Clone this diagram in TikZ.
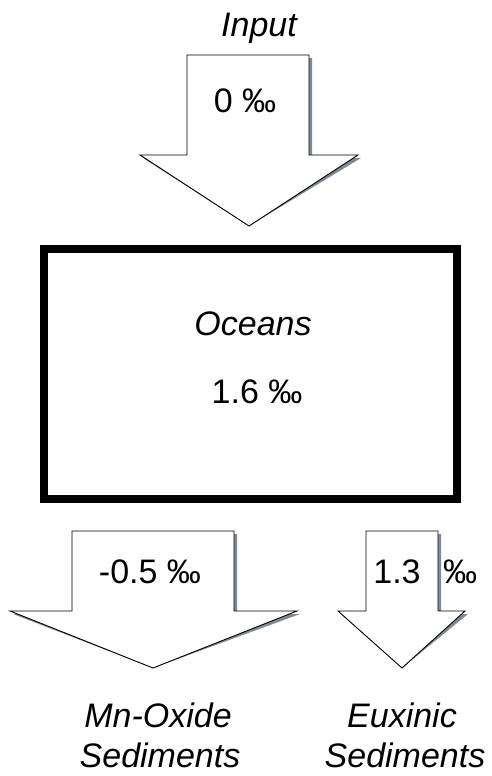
\documentclass[tikz,border=0pt]{standalone}
\usepackage{fontspec}
\setmainfont{Liberation Sans}
\definecolor{shadowgrey}{RGB}{128,138,148}
\begin{document}
\begin{tikzpicture}[x=1pt,y=-1pt,
  flowarrow/.style={draw=black,line width=0.9pt,fill=white,line join=miter},
  arrowshadow/.style={fill=shadowgrey,draw=none},
  lbl/.style={inner sep=0pt,anchor=base,font=\fontsize{34}{40}\selectfont},
  ilbl/.style={lbl,font=\fontsize{34}{40}\selectfont\itshape}]
\useasboundingbox (0,0) rectangle (492,776);

% block arrow: shaft left/right, head left/right, shaft top, head base, tip
\newcommand{\blockarrow}[7]{%
  \fill[arrowshadow,shift={(3pt,-3pt)}] (#1,#5) -- (#2,#5) -- (#2,#6) -- (#4,#6) -- (#7) -- (#3,#6) -- (#1,#6) -- cycle;
  \draw[flowarrow] (#1,#5) -- (#2,#5) -- (#2,#6) -- (#4,#6) -- (#7) -- (#3,#6) -- (#1,#6) -- cycle;}

% inflow
\coordinate (intip) at (249,226);
\blockarrow{187}{309}{140}{358}{55}{155}{intip}
% outflows
\coordinate (mntip) at (153,668);
\blockarrow{72}{234}{10}{297}{531}{611}{mntip}
\coordinate (eutip) at (402,668);
\blockarrow{366}{438}{338}{465}{531}{611}{eutip}

% ocean reservoir
\draw[line width=8pt,line join=miter] (44,249) rectangle (457,499);

\node[ilbl] (input) at (259,37) {Input};
\node[lbl] (inval) at (245,112) {0 ‰};
\node[ilbl] (ocean) at (253,335) {Oceans};
\node[lbl] (oceanval) at (257,403) {1.6 ‰};
\node[lbl] (mnval) at (150,583) {-0.5 ‰};
\node[lbl] (euval) at (397,583) {1.3};
\node[lbl] (eupermil) at (460,583) {‰};
\node[ilbl] (mn1) at (158,727) {Mn-Oxide};
\node[ilbl] (mn2) at (160,767) {Sediments};
\node[ilbl] (eu1) at (402,727) {Euxinic};
\node[ilbl] (eu2) at (405,767) {Sediments};
\end{tikzpicture}
\end{document}
